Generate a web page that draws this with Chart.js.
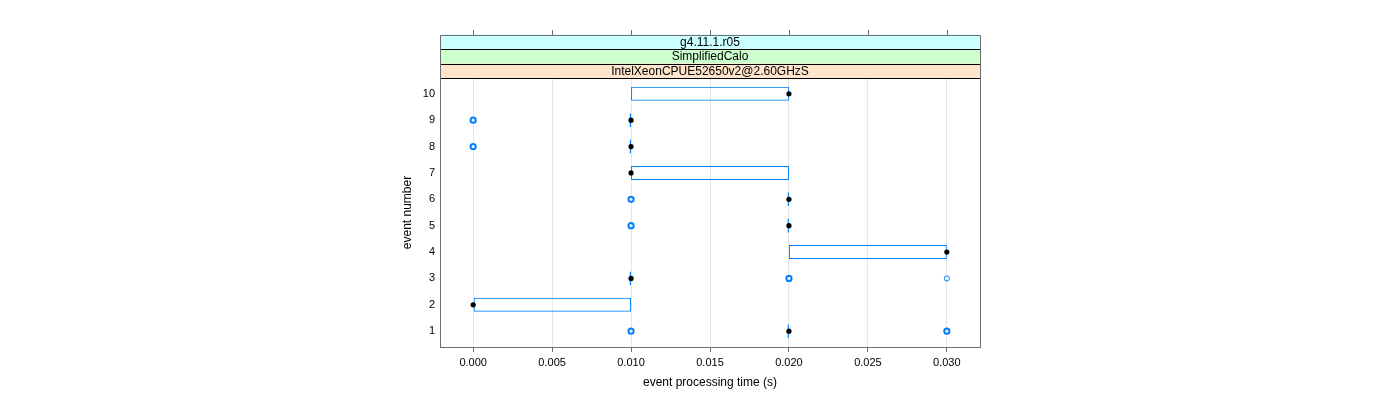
<!DOCTYPE html>
<html>
<head>
<meta charset="utf-8">
<script src="https://cdn.jsdelivr.net/npm/chart.js@4"></script>
<style>
  body { margin: 0; background: #fff; }
</style>
</head>
<body>
<canvas id="chart" width="1400" height="400"></canvas>
<script>
// per-event summary of processing time (s)
var events = [1, 2, 3, 4, 5, 6, 7, 8, 9, 10];
var lowerQuartile = [0.02, 0.00, 0.01, 0.02, 0.02, 0.02, 0.01, 0.01, 0.01, 0.01];
var upperQuartile = [0.02, 0.01, 0.01, 0.03, 0.02, 0.02, 0.02, 0.01, 0.01, 0.02];
var medians = [0.02, 0.00, 0.01, 0.03, 0.02, 0.02, 0.01, 0.01, 0.01, 0.02];

// outliers: event, time, how many runs landed there
var outlierEvent = [1, 1, 3, 3, 5, 6, 8, 9];
var outlierTime = [0.01, 0.03, 0.02, 0.03, 0.01, 0.01, 0.00, 0.00];
var outlierCount = [3, 3, 3, 1, 3, 3, 3, 3];

var xTicks = [0.000, 0.005, 0.010, 0.015, 0.020, 0.025, 0.030];
var yTicks = [1, 2, 3, 4, 5, 6, 7, 8, 9, 10];

// strip labels, outermost first
var strips = ['g4.11.1.r05', 'SimplifiedCalo', 'IntelXeonCPUE52650v2@2.60GHzS'];
var stripColors = ['#ccffff', '#ccffcc', '#ffe5cc'];

var frameColor = '#6e6e6e';
var boxColor = '#0080ff';

Chart.defaults.font.family = "'Liberation Sans', Arial, sans-serif";
Chart.defaults.font.size = 11;
Chart.defaults.color = '#000';

var boxData = events.map(function (e, i) {
  return { y: e, x: [lowerQuartile[i], upperQuartile[i]] };
});
var medianData = events.map(function (e, i) {
  return { x: medians[i], y: e };
});
var outlierData = outlierEvent.map(function (e, i) {
  return { x: outlierTime[i], y: e, n: outlierCount[i] };
});

var stripPlugin = {
  id: 'strips',
  afterDraw: function (chart) {
    var c = chart.ctx;
    var a = chart.chartArea;
    var xs = chart.scales.x;
    var h = 14.5;
    var top = a.top - h * strips.length;
    c.save();
    // strips
    strips.forEach(function (s, i) {
      var y0 = top + i * h;
      c.fillStyle = stripColors[i];
      c.fillRect(a.left, y0, a.right - a.left, h);
      c.fillStyle = '#000';
      c.font = "12px 'Liberation Sans', Arial, sans-serif";
      c.textAlign = 'center';
      c.textBaseline = 'middle';
      c.fillText(s, (a.left + a.right) / 2, y0 + h / 2 + 0.5);
    });
    c.lineWidth = 1;
    c.strokeStyle = '#000';
    for (var i = 1; i <= strips.length; i++) {
      var yy = Math.round(top + i * h) + 0.5;
      c.beginPath();
      c.moveTo(a.left, yy);
      c.lineTo(a.right, yy);
      c.stroke();
    }
    // frame
    c.strokeStyle = frameColor;
    var l = Math.round(a.left) + 0.5, r = Math.round(a.right) + 0.5, t = Math.round(top) + 0.5;
    c.beginPath();
    c.moveTo(l, a.bottom);
    c.lineTo(l, t);
    c.lineTo(r, t);
    c.lineTo(r, a.bottom);
    c.stroke();
    // top ticks
    xTicks.forEach(function (v) {
      var px = Math.round(xs.getPixelForValue(v)) + 0.5;
      c.beginPath();
      c.moveTo(px, t);
      c.lineTo(px, t - 5.5);
      c.stroke();
    });
    c.restore();
  }
};

var ctx = document.getElementById('chart').getContext('2d');
var chart = new Chart(ctx, {
  type: 'scatter',
  data: {
    datasets: [{
        label: 'median',
        data: medianData,
        pointRadius: 2.6,
        pointBackgroundColor: '#000',
        pointBorderColor: '#000',
        pointBorderWidth: 0,
        pointHoverRadius: 2.6
      }, {
        label: 'outliers',
        data: outlierData,
        pointRadius: 2.6,
        pointBackgroundColor: 'rgba(0,0,0,0)',
        pointBorderColor: boxColor,
        pointBorderWidth: function (c) { return c.raw && c.raw.n > 1 ? 2 : 1; }
      }, {
        type: 'bar',
        label: 'box',
        indexAxis: 'y',
        data: boxData,
        barThickness: 14,
        minBarLength: 1.5,
        borderSkipped: false,
        borderWidth: 1,
        inflateAmount: 0,
        borderColor: boxColor,
        backgroundColor: 'rgba(0,0,0,0)'
    }]
  },
  options: {
    responsive: false,
    animation: false,
    events: [],
    layout: {
      padding: { left: 395, right: 420, top: 78, bottom: 5 }
    },
    scales: {
      x: {
        type: 'linear',
        min: -0.0021,
        max: 0.0321,
        afterBuildTicks: function (s) { s.ticks = xTicks.map(function (v) { return { value: v }; }); },
        afterFit: function (s) { s.height = 48; },
        ticks: {
          padding: 4,
          maxRotation: 0,
          callback: function (v) { return v.toFixed(3); }
        },
        grid: {
          color: '#e6e6e6',
          tickColor: frameColor,
          tickLength: 5,
          drawTicks: true
        },
        border: { display: true, color: frameColor },
        title: {
          display: true,
          text: 'event processing time (s)',
          font: { size: 12 },
          padding: { top: 0, bottom: 5 }
        }
      },
      y: {
        type: 'linear',
        offset: false,
        min: 0.4,
        max: 10.6,
        afterBuildTicks: function (s) { s.ticks = yTicks.map(function (v) { return { value: v }; }); },
        afterFit: function (s) { s.width = 45; },
        ticks: { padding: 5 },
        grid: { display: false, drawTicks: false, offset: false },
        border: { display: true, color: frameColor },
        title: {
          display: true,
          text: 'event number',
          font: { size: 12 },
          padding: { top: 5, bottom: 0 }
        }
      }
    },
    plugins: {
      legend: { display: false },
      tooltip: { enabled: false }
    }
  },
  plugins: [stripPlugin]
});
</script>
</body>
</html>
